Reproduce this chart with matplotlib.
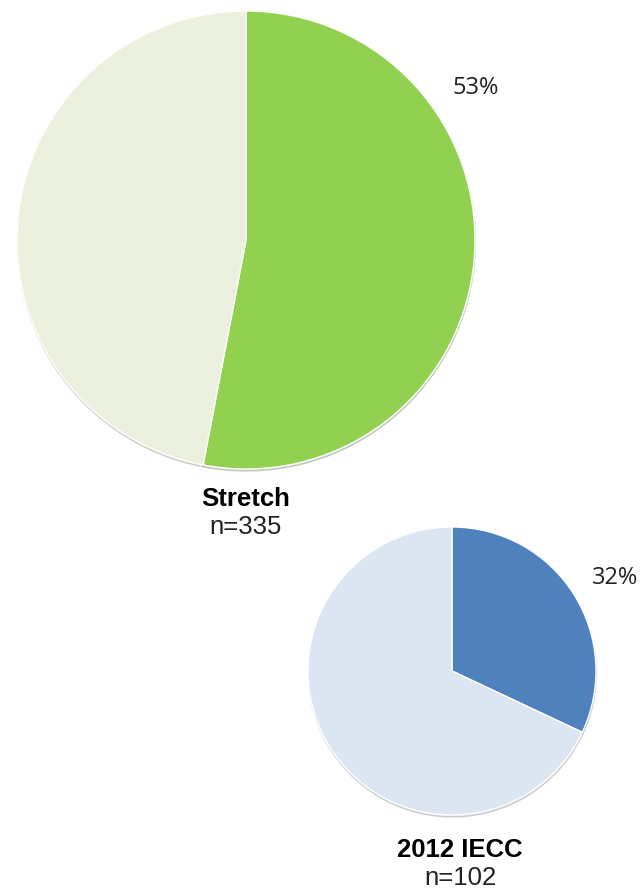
import matplotlib.pyplot as plt

# data
groups = ['Stretch', '2012 IECC']
counts = [335, 102]
shares = [53, 32]          # % highlighted slice
colors_main = ['#92D050', '#4F81BD']
colors_rest = ['#EBF1DE', '#DCE6F2']

# layout in pixel units (y up)
W, H = 641, 892
centers = [(246, 652), (452, 221)]
radii = [229, 144]
pct_pos = [(476, 804), (615, 314)]
name_pos = [(246, 393), (460, 42)]

fig = plt.figure(figsize=(W / 100, H / 100), dpi=100)
ax = fig.add_axes([0, 0, 1, 1])

for i in range(len(groups)):
    vals = [shares[i], 100 - shares[i]]
    ax.pie(vals, colors=[colors_main[i], colors_rest[i]], startangle=90, counterclock=False,
           center=centers[i], radius=radii[i], frame=True,
           wedgeprops=dict(edgecolor='white', linewidth=1.0),
           shadow=dict(ox=0.3, oy=-1.5, shade=0.6, alpha=0.2))
    ax.text(pct_pos[i][0], pct_pos[i][1], f'{shares[i]}%', ha='center', va='center',
            fontsize=17, family='Open Sans', color='#222222')
    ax.text(name_pos[i][0], name_pos[i][1], groups[i], ha='center', va='center',
            fontsize=18.5, fontweight='bold', family='Liberation Sans', color='black')
    ax.text(name_pos[i][0], name_pos[i][1] - 28, f'n={counts[i]}', ha='center', va='center',
            fontsize=18.5, family='Liberation Sans', color='#222222')

ax.set_xlim(0, W)
ax.set_ylim(0, H)
ax.set_aspect('equal')
ax.axis('off')

fig.savefig('out.png', dpi=100)
